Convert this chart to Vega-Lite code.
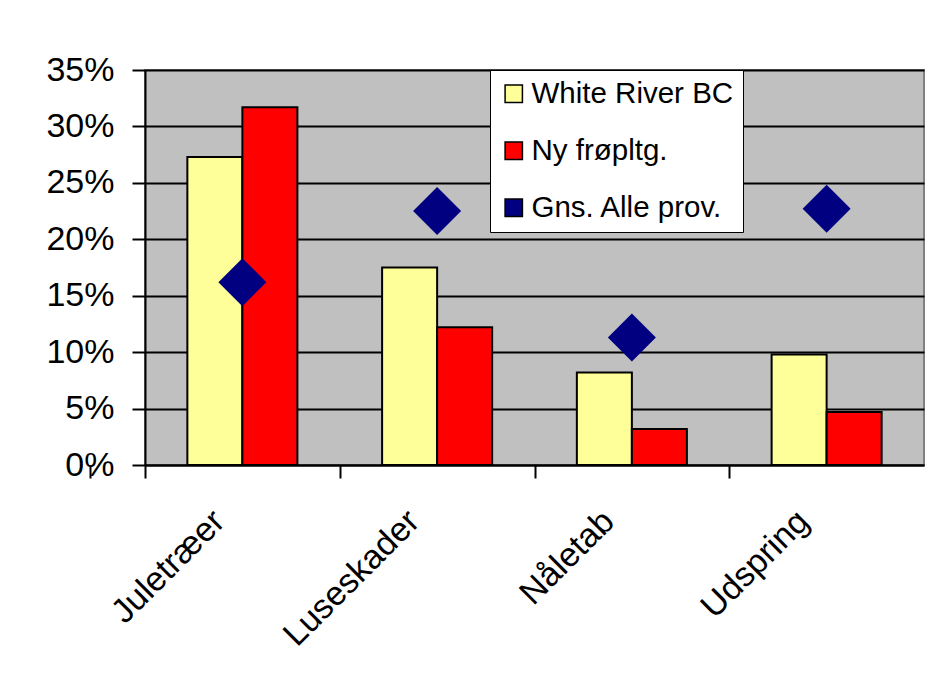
{
  "$schema": "https://vega.github.io/schema/vega-lite/v6.json",
  "width": 779,
  "height": 395,
  "autosize": "none",
  "padding": {"left": 145, "top": 70, "right": 4, "bottom": 227},
  "background": "white",
  "data": {
    "values": [
      {"category": "Juletræer", "series": "White River BC", "value": 0.273},
      {"category": "Juletræer", "series": "Ny frøpltg.", "value": 0.317},
      {"category": "Juletræer", "series": "Gns. Alle prov.", "value": 0.162},
      {"category": "Luseskader", "series": "White River BC", "value": 0.175},
      {"category": "Luseskader", "series": "Ny frøpltg.", "value": 0.122},
      {"category": "Luseskader", "series": "Gns. Alle prov.", "value": 0.225},
      {"category": "Nåletab", "series": "White River BC", "value": 0.082},
      {"category": "Nåletab", "series": "Ny frøpltg.", "value": 0.032},
      {"category": "Nåletab", "series": "Gns. Alle prov.", "value": 0.113},
      {"category": "Udspring", "series": "White River BC", "value": 0.098},
      {"category": "Udspring", "series": "Ny frøpltg.", "value": 0.047},
      {"category": "Udspring", "series": "Gns. Alle prov.", "value": 0.227}
    ]
  },
  "config": {
    "font": "Liberation Sans",
    "view": {"fill": "#C0C0C0", "stroke": "#808080", "strokeWidth": 2},
    "axis": {
      "labelFont": "Liberation Sans",
      "labelColor": "black",
      "labelFontSize": 34,
      "domainColor": "black",
      "domainWidth": 2,
      "tickColor": "black",
      "tickWidth": 2,
      "tickSize": 13,
      "title": null
    }
  },
  "encoding": {
    "x": {
      "field": "category",
      "type": "nominal",
      "sort": ["Juletræer", "Luseskader", "Nåletab", "Udspring"],
      "scale": {"paddingInner": 0.435, "paddingOuter": 0.2175},
      "axis": {
        "labelAngle": -45,
        "labelAlign": "right",
        "labelBaseline": "middle",
        "labelPadding": 38,
        "labelLimit": 400,
        "tickOffset": -97.375,
        "labelOffset": 74,
        "tickExtra": true,
        "grid": false
      }
    },
    "y": {
      "field": "value",
      "type": "quantitative",
      "scale": {"domain": [0, 0.35], "nice": false},
      "axis": {
        "values": [0, 0.05, 0.1, 0.15, 0.2, 0.25, 0.3, 0.35],
        "format": ".0%",
        "grid": true,
        "gridColor": "black",
        "gridWidth": 2,
        "gridOpacity": 1,
        "labelPadding": 18,
        "labelBaseline": "middle"
      }
    },
    "color": {
      "field": "series",
      "type": "nominal",
      "scale": {
        "domain": ["White River BC", "Ny frøpltg.", "Gns. Alle prov."],
        "range": ["#FFFF99", "#FF0000", "#000080"]
      },
      "legend": {
        "title": null,
        "orient": "none",
        "legendX": 345,
        "legendY": 0,
        "fillColor": "white",
        "strokeColor": "black",
        "padding": 9,
        "labelFont": "Liberation Sans",
        "labelFontSize": 29.5,
        "labelColor": "black",
        "labelOffset": 3,
        "labelLimit": 400,
        "rowPadding": 26,
        "symbolSize": 300,
        "encode": {
          "legend": {"update": {"strokeWidth": {"value": 2}}},
          "symbols": {
            "update": {
              "shape": {"signal": "datum.value === 'Gns. Alle prov.' ? 'diamond' : 'square'"},
              "stroke": {"signal": "datum.value === 'Gns. Alle prov.' ? 'transparent' : 'black'"},
              "strokeWidth": {"value": 2},
              "size": {"signal": "datum.value === 'Gns. Alle prov.' ? 420 : 270"},
              "fillOpacity": {"value": 1},
              "opacity": {"value": 1}
            }
          }
        }
      }
    }
  },
  "layer": [
    {
      "transform": [{"filter": "datum.series !== 'Gns. Alle prov.'"}],
      "mark": {"type": "bar", "stroke": "black", "strokeWidth": 2},
      "encoding": {
        "xOffset": {
          "field": "series",
          "type": "nominal",
          "sort": ["White River BC", "Ny frøpltg."],
          "scale": {"paddingInner": 0, "paddingOuter": 0}
        }
      }
    },
    {
      "transform": [{"filter": "datum.series === 'Gns. Alle prov.'"}],
      "mark": {"type": "point", "shape": "diamond", "filled": true, "size": 2300, "opacity": 1},
      "encoding": {}
    }
  ]
}
